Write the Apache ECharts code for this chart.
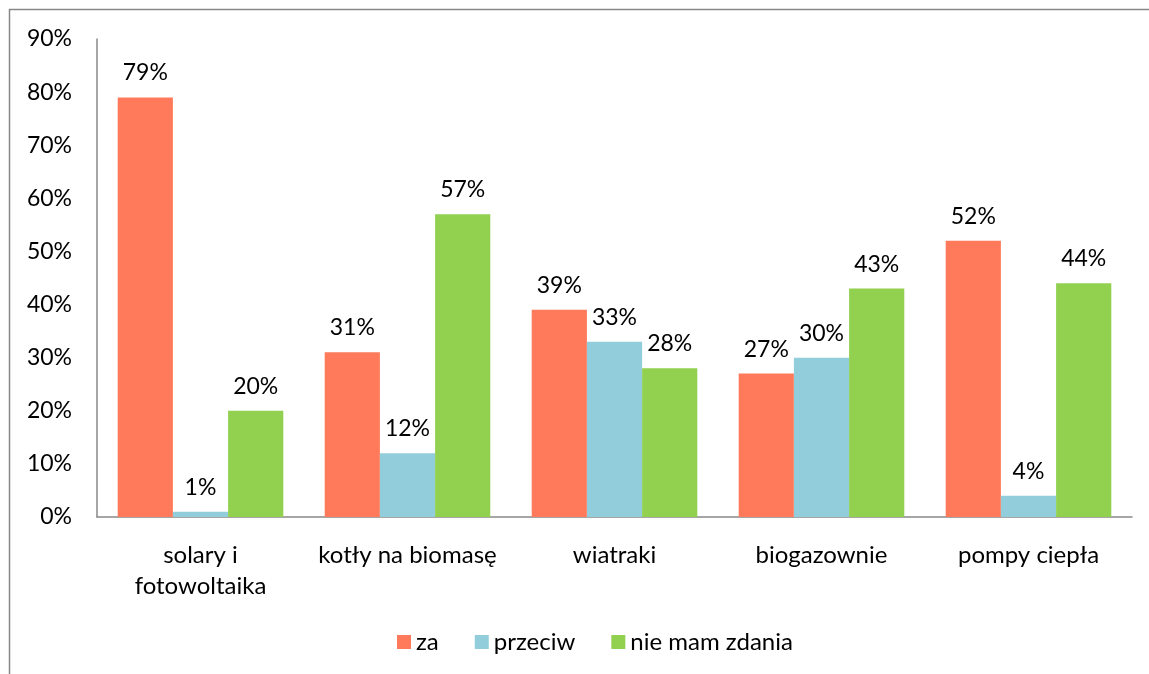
<!DOCTYPE html>
<html>
<head>
<meta charset="utf-8">
<script src="https://cdn.jsdelivr.net/npm/echarts@6/dist/echarts.min.js"></script>
<style>
  html, body { margin: 0; padding: 0; background: #fff; }
  #chart { width: 1149px; height: 674px; }
</style>
</head>
<body>
<div id="chart"></div>
<script>
const categories = ["solary i\nfotowoltaika", "kotły na biomasę", "wiatraki", "biogazownie", "pompy ciepła"];
const seriesNames = ["za", "przeciw", "nie mam zdania"];
const za = [79, 31, 39, 27, 52];
const przeciw = [1, 12, 33, 30, 4];
const nieMamZdania = [20, 57, 28, 43, 44];
const colors = ["#FF7A5A", "#92CDDC", "#92D050"];

const font = "Lato, 'Open Sans', sans-serif";

const makeSeries = (name, data, color) => ({
    name: name,
    type: "bar",
    data: data,
    barGap: 0,
    barCategoryGap: "20%",
    itemStyle: { color: color },
    label: {
        show: true,
        position: "top",
        distance: 13,
        formatter: "{c}%",
        color: "#000",
        fontSize: 23,
        fontFamily: font
    }
});

const chart = echarts.init(document.getElementById("chart"));
chart.setOption({
    animation: false,
    color: colors,
    graphic: [
        {
            type: "rect",
            shape: { x: 9.5, y: 9.5, width: 1200, height: 700 },
            style: { fill: "none", stroke: "#888", lineWidth: 1.5 },
            silent: true
        }
    ],
    grid: { left: 97, top: 39, right: 17, bottom: 157 },
    legend: {
        data: seriesNames,
        bottom: 15,
        left: 392,
        itemWidth: 14,
        itemHeight: 14,
        itemGap: 36,
        icon: "rect",
        textStyle: { fontSize: 24, fontFamily: font, color: "#000" }
    },
    xAxis: {
        type: "category",
        data: categories,
        axisLine: { lineStyle: { color: "#898989", width: 1.5 } },
        axisTick: { show: false },
        axisLabel: {
            fontSize: 24,
            fontFamily: font,
            color: "#000",
            margin: 23,
            lineHeight: 31,
            interval: 0
        }
    },
    yAxis: {
        type: "value",
        min: 0,
        max: 90,
        interval: 10,
        splitLine: { show: false },
        axisLine: { show: true, lineStyle: { color: "#898989", width: 1.5 } },
        axisTick: { show: false },
        axisLabel: {
            formatter: "{value}%",
            fontSize: 23,
            fontFamily: font,
            color: "#000",
            margin: 25
        }
    },
    series: [
        makeSeries(seriesNames[0], za, colors[0]),
        makeSeries(seriesNames[1], przeciw, colors[1]),
        makeSeries(seriesNames[2], nieMamZdania, colors[2])
    ]
});
</script>
</body>
</html>
